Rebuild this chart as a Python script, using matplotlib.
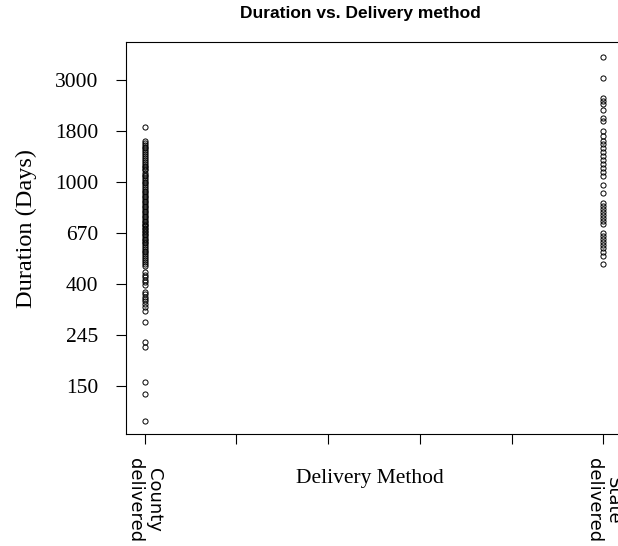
import numpy as np
import matplotlib
matplotlib.use("Agg")
import matplotlib.pyplot as plt

categories = ["County\ndelivered", "State\ndelivered"]
x_ticks = [1.0, 1.2, 1.4, 1.6, 1.8, 2.0]
y_tick_log = [5.0, 5.5, 6.0, 6.5, 7.0, 7.5, 8.0]
y_tick_labels = ["150", "245", "400", "670", "1000", "1800", "3000"]

county_days = [1880,
    1640, 1610, 1580, 1550, 1530, 1500, 1470, 1440, 1420, 1390, 1360, 1340,
    1310, 1290, 1270, 1250, 1230, 1200, 1180, 1160, 1140, 1120, 1100, 1085,
    1070, 1050, 1030, 1010, 995, 980, 960, 945, 930, 915, 900, 885, 870, 855,
    840, 825, 815, 800, 790, 775, 765, 750, 740, 730, 720, 710, 700, 690, 680,
    670, 660, 650, 640, 630, 620, 610, 600, 590, 580, 570, 560, 550, 540, 530,
    520, 510, 500, 490, 480,
    454, 441, 432, 420, 412, 399, 373, 366, 355, 348, 341, 332, 322, 310, 278,
    228, 217, 154, 137, 105]

state_days = [3770, 3040, 2500, 2430, 2360, 2220, 2060, 2000, 1810, 1720, 1650,
    1590, 1530, 1470, 1415, 1360, 1310, 1260, 1210, 1165, 1065, 985, 893, 867,
    842, 818, 794, 771, 749, 727, 665, 646, 627, 609, 591, 574, 552, 531, 490]

W, H = 618, 546
fig = plt.figure(figsize=(W / 100, H / 100), dpi=100)
ax = fig.add_axes([126 / W, 1 - 434 / H, (622 - 126) / W, (434 - 42) / H])

mk = dict(linestyle="none", marker="o", markersize=3.7, markerfacecolor="none",
          markeredgecolor="black", markeredgewidth=0.7)
ax.plot([1.0] * len(county_days), county_days, **mk)
ax.plot([2.0] * len(state_days), state_days, **mk)

ax.set_yscale("log")
ax.set_ylim(np.exp(4.524), np.exp(8.378))
ax.set_xlim(0.959, 2.041)
ax.minorticks_off()
ax.set_yticks(np.exp(np.array(y_tick_log)))
ax.set_yticklabels(y_tick_labels, fontfamily="Liberation Serif", fontsize=15.5)
ax.set_xticks(x_ticks)
ax.set_xticklabels([""] * len(x_ticks))
ax.tick_params(axis="y", length=7, width=0.8, pad=13)
ax.tick_params(axis="x", length=7, width=0.8)

for s in ax.spines.values():
    s.set_linewidth(0.8)

for xv, lab in zip([1.0, 2.0], categories):
    ax.text(xv, -0.062, lab, transform=ax.get_xaxis_transform(), rotation=270,
            ha="center", va="top", fontsize=13, fontfamily="DejaVu Sans",
            linespacing=1.1)

ax.set_ylabel("Duration (Days)", fontfamily="Liberation Serif", fontsize=17.5)
ax.yaxis.set_label_coords(-0.18, 0.525)
fig.text(370 / W, 1 - 478 / H, "Delivery Method", ha="center", va="center",
         fontfamily="Liberation Serif", fontsize=15.5)

fig.text(360 / W, 1 - 18 / H, "Duration vs. Delivery method", ha="center",
         va="baseline", fontfamily="Liberation Sans", fontweight="bold", fontsize=12.5)

fig.savefig("out.png", dpi=100)
